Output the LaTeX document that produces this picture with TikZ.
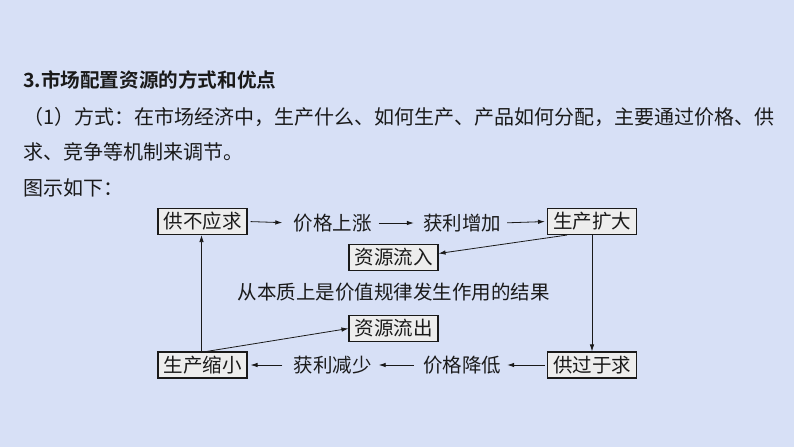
\documentclass[tikz,border=0pt]{standalone}
\usepackage{fontspec}
\setmainfont{Noto Sans CJK SC}
\newfontfamily\cjk{Noto Sans CJK SC}
\newfontfamily\cjkb{Noto Sans CJK SC Bold}
\usetikzlibrary{arrows.meta}
\definecolor{bgc}{HTML}{D7E0F6}
\definecolor{boxfill}{HTML}{EDEDED}
\definecolor{ink}{HTML}{1A1A1A}
\begin{document}
\begin{tikzpicture}[x=1pt,y=-1pt,
  para/.style={anchor=west,inner sep=0pt,font=\cjk\fontsize{20}{22}\selectfont,text=ink},
  head/.style={anchor=west,inner sep=0pt,font=\cjkb\fontsize{19.6}{22}\selectfont,text=ink},
  stepbox/.style={draw=ink,line width=1.1pt,fill=boxfill,minimum width=89pt,minimum height=26pt,inner sep=0pt,font=\cjk\fontsize{19.5}{21}\selectfont,text=ink},
  plain/.style={inner sep=0pt,minimum width=77pt,font=\cjk\fontsize{19.5}{21}\selectfont,text=ink},
  conn/.style={draw=ink,line width=0.8pt,-{Latex[length=7pt,width=4.5pt]}}]
\fill[bgc] (0,0) rectangle (794,447);
\useasboundingbox (0,0) rectangle (794,447);
% text
\node[head] (t1) at (23,80) {3.市场配置资源的方式和优点};
\node[para] (t2) at (23,117) {（1）方式：在市场经济中，生产什么、如何生产、产品如何分配，主要通过价格、供};
\node[para] (t3) at (23,152) {求、竞争等机制来调节。};
\node[para] (t4) at (23,188) {图示如下：};
% diagram nodes
\node[stepbox] (gb) at (202.5,221.5) {供不应求};
\node[plain] (jz) at (332.5,223) {价格上涨};
\node[plain] (hz) at (462,223) {获利增加};
\node[stepbox] (kd) at (592,221.5) {生产扩大};
\node[stepbox] (lr) at (393.5,257.5) {资源流入};
\node[plain] (bz) at (393.5,292) {从本质上是价值规律发生作用的结果};
\node[stepbox] (lc) at (393.5,328.5) {资源流出};
\node[stepbox] (sx) at (202.5,365) {生产缩小};
\node[plain] (hj) at (332.5,365) {获利减少};
\node[plain] (jd) at (462,365) {价格降低};
\node[stepbox] (gg) at (592,365) {供过于求};
% connectors
\draw[conn,shorten <=3pt,shorten >=11pt] (gb.east) -- (jz.west);
\draw[conn,shorten <=7pt,shorten >=9pt] (jz.east) -- (hz.west);
\draw[conn,shorten <=6pt,shorten >=2pt] (hz.east) -- (kd.west);
\draw[conn] ([xshift=-25pt]kd.south) -- ([yshift=4pt]lr.east);
\draw[conn] (kd.south) -- (gg.north);
\draw[conn,shorten <=2pt,shorten >=6pt] (gg.west) -- (jd.east);
\draw[conn,shorten <=9pt,shorten >=7pt] (jd.west) -- (hj.east);
\draw[conn,shorten <=11pt,shorten >=3pt] (hj.west) -- (sx.east);
\draw[conn] ([xshift=4pt]sx.north) -- (lc.west);
\draw[conn] ([xshift=-1pt]sx.north) -- ([xshift=-1pt]gb.south);
\end{tikzpicture}
\end{document}
